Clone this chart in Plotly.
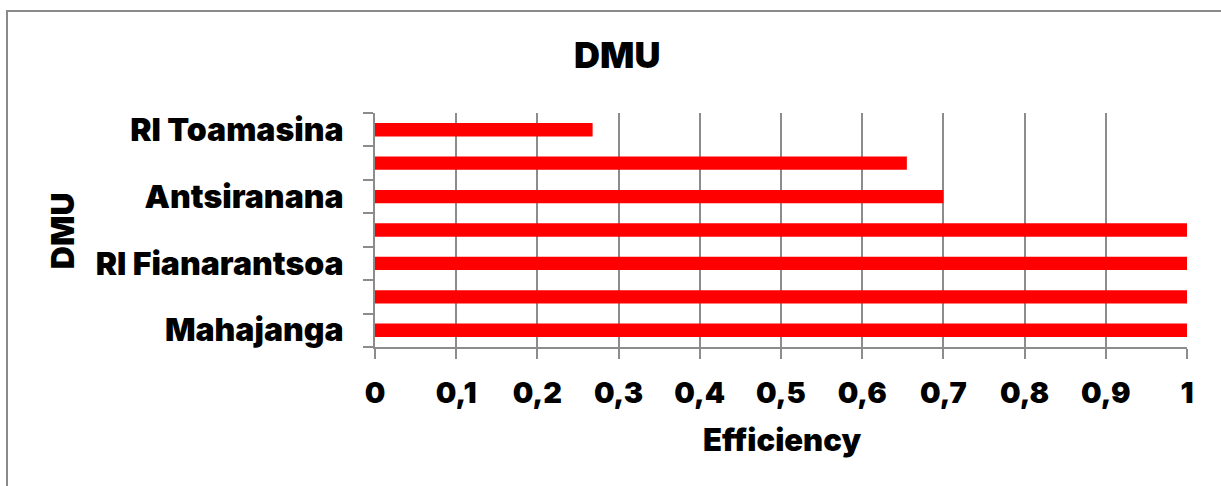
import plotly.graph_objects as go

# DMU efficiency scores, bottom to top (unlabelled rows keep an empty tick label)
dmu_labels = ["Mahajanga", "", "RI Fianarantsoa", "", "Antsiranana", "", "RI Toamasina"]
efficiency = [1.0, 1.0, 1.0, 1.0, 0.70, 0.655, 0.268]
x_ticks = [0, 0.1, 0.2, 0.3, 0.4, 0.5, 0.6, 0.7, 0.8, 0.9, 1.0]

FONT = "Inter, Arial Black, sans-serif"
GRID = "#8c8c8c"
positions = list(range(len(dmu_labels)))

fig = go.Figure(
    go.Bar(
        x=efficiency,
        y=positions,
        orientation="h",
        width=0.4,
        marker=dict(color="#ff0000", line=dict(width=0)),
    )
)

fig.update_layout(
    width=1221,
    height=486,
    margin=dict(l=375, r=34, t=113, b=139),
    paper_bgcolor="white",
    plot_bgcolor="white",
    separators=", ",
    showlegend=False,
    font=dict(family=FONT, color="black", weight=900),
)

fig.update_xaxes(
    range=[0, 1],
    tickvals=x_ticks,
    ticks="outside",
    ticklen=10,
    tickwidth=2,
    tickcolor=GRID,
    showgrid=True,
    gridcolor=GRID,
    gridwidth=2,
    zeroline=False,
    showline=True,
    linecolor=GRID,
    linewidth=2,
    ticklabelstandoff=9,
    tickfont=dict(size=29, family=FONT, weight=900),
)

fig.update_yaxes(
    range=[-0.5, len(dmu_labels) - 0.5],
    tickvals=positions,
    ticktext=dmu_labels,
    ticks="",
    showgrid=False,
    zeroline=False,
    showline=True,
    linecolor=GRID,
    linewidth=2,
    ticklabelstandoff=23,
    tickfont=dict(size=32, family=FONT, weight=900),
    minor=dict(tick0=-0.5, dtick=1, ticks="outside", ticklen=10, tickwidth=2,
               tickcolor=GRID, showgrid=False),
)

# chart frame
fig.add_shape(type="rect", xref="paper", yref="paper",
              x0=-0.4532, x1=1.2, y0=-0.8, y1=1.4359,
              line=dict(color="#8a8a8a", width=2), fillcolor="rgba(0,0,0,0)",
              layer="below")

fig.add_annotation(text="DMU", xref="paper", yref="paper", x=0.298, y=1.248,
                   xanchor="center", yanchor="middle", showarrow=False,
                   font=dict(size=36, family=FONT, weight=900))
fig.add_annotation(text="Efficiency", xref="paper", yref="paper", x=0.501, y=-0.397,
                   xanchor="center", yanchor="middle", showarrow=False,
                   font=dict(size=31, family=FONT, weight=900))
fig.add_annotation(text="DMU", xref="paper", yref="paper", x=-0.384, y=0.496,
                   xanchor="center", yanchor="middle", textangle=-90, showarrow=False,
                   font=dict(size=32, family=FONT, weight=900))

fig.write_html("out.html")
